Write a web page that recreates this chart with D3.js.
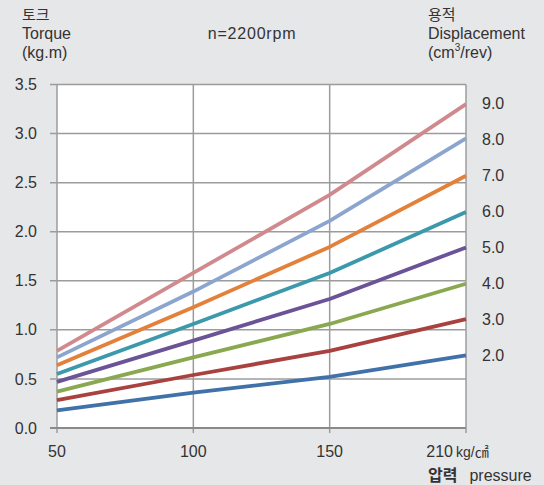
<!DOCTYPE html>
<html><head><meta charset="utf-8">
<script src="https://cdn.jsdelivr.net/npm/d3@7"></script>
<style>
html,body{margin:0;padding:0;background:#e6e7e9;}
svg{display:block;}
text{font-family:"Liberation Sans",Arial,"Noto Sans CJK KR",sans-serif;fill:#333;}
.kr{font-family:"Noto Sans CJK KR","Liberation Sans",sans-serif;}
</style></head>
<body>
<script>
const pressures = [50, 100, 150, 210];
const torqueTicks = [0, 0.5, 1.0, 1.5, 2.0, 2.5, 3.0, 3.5];
const displacementTicks = [2, 3, 4, 5, 6, 7, 8, 9];
const d2 = [0.18, 0.36, 0.52, 0.74];
const d3v = [0.285, 0.54, 0.785, 1.11];
const d4 = [0.37, 0.72, 1.06, 1.47];
const d5 = [0.47, 0.89, 1.315, 1.84];
const d6 = [0.55, 1.06, 1.58, 2.20];
const d7 = [0.64, 1.23, 1.845, 2.57];
const d8 = [0.72, 1.39, 2.11, 2.95];
const d9 = [0.785, 1.58, 2.375, 3.30];
const seriesNames = ["2.0","3.0","4.0","5.0","6.0","7.0","8.0","9.0"];
const seriesValues = [d2, d3v, d4, d5, d6, d7, d8, d9];
const colors = ["#4171a9","#a9413f","#8aa84f","#6a5396","#3b99ab","#e3813b","#8ba5cf","#d0898d"];
const torquePerDisp = 0.3675; // right axis: torque at 210 per cm3/rev

const W = 544, H = 485;
const svg = d3.select("body").append("svg").attr("width", W).attr("height", H);

const x = d3.scalePoint().domain(pressures).range([57, 466]);
const y = d3.scaleLinear().domain([0, 3.5]).range([428, 84.5]);
const yR = d3.scaleLinear().domain([0, 3.5 / torquePerDisp]).range([428, 84.5]);

// plot background
svg.append("rect").attr("x", x(50)).attr("y", y(3.5)).attr("width", x(210) - x(50)).attr("height", y(0) - y(3.5)).attr("fill", "#fff");

// horizontal gridlines
svg.append("g").selectAll("line").data(torqueTicks.filter(d => d > 0)).join("line")
  .attr("x1", x(50) - 7).attr("x2", x(210)).attr("y1", d => y(d)).attr("y2", d => y(d))
  .attr("stroke", "#9c9c9c").attr("stroke-width", 1.5);
// vertical gridlines
svg.append("g").selectAll("line").data(pressures.slice(1)).join("line")
  .attr("x1", d => x(d)).attr("x2", d => x(d)).attr("y1", y(3.5)).attr("y2", y(0) + 5)
  .attr("stroke", "#9c9c9c").attr("stroke-width", 1.5);
// left axis
svg.append("line").attr("x1", x(50)).attr("x2", x(50)).attr("y1", y(3.5)).attr("y2", y(0) + 5)
  .attr("stroke", "#9c9c9c").attr("stroke-width", 1.5);
// bottom axis
svg.append("line").attr("x1", x(50) - 7).attr("x2", x(210)).attr("y1", y(0)).attr("y2", y(0))
  .attr("stroke", "#8a8a8a").attr("stroke-width", 2);

// lines
const line = d3.line().x((d, i) => x(pressures[i])).y(d => y(d));
svg.append("g").selectAll("path").data(seriesValues).join("path")
  .attr("d", line).attr("fill", "none")
  .attr("stroke", (d, i) => colors[i]).attr("stroke-width", 3.8)
  .attr("stroke-linejoin", "round");

// left tick labels
svg.append("g").selectAll("text").data(torqueTicks).join("text")
  .attr("x", 37).attr("y", d => y(d)).attr("dy", "0.35em")
  .attr("text-anchor", "end").attr("font-size", 16)
  .text(d => d.toFixed(1));

// right tick labels
svg.append("g").selectAll("text").data(displacementTicks).join("text")
  .attr("x", 482).attr("y", d => yR(d)).attr("dy", "0.35em")
  .attr("font-size", 16)
  .text(d => d.toFixed(1));

// bottom tick labels
svg.append("g").selectAll("text").data(pressures).join("text")
  .attr("x", d => d === 210 ? x(d) - 13 : x(d)).attr("y", 457)
  .attr("text-anchor", d => d === 210 ? "end" : "middle").attr("font-size", 16)
  .text(d => d);
svg.append("text").attr("x", x(210) - 10).attr("y", 457).attr("font-size", 14)
  .attr("font-family", "'Liberation Sans Narrow','Liberation Sans',sans-serif").text("kg/㎠");

// titles
svg.append("text").attr("class", "kr").attr("x", 22).attr("y", 20).attr("font-size", 15).text("토크");
svg.append("text").attr("x", 22).attr("y", 39).attr("font-size", 16).text("Torque");
svg.append("text").attr("x", 22).attr("y", 58).attr("font-size", 16).text("(kg.m)");

svg.append("text").attr("x", 252).attr("y", 39).attr("font-size", 16).attr("text-anchor", "middle")
  .attr("letter-spacing", 0.8).text("n=2200rpm");

svg.append("text").attr("class", "kr").attr("x", 428).attr("y", 20).attr("font-size", 15).text("용적");
svg.append("text").attr("x", 428).attr("y", 39).attr("font-size", 16).text("Displacement");
const cm = svg.append("text").attr("x", 428).attr("y", 58).attr("font-size", 16);
cm.append("tspan").text("(cm");
cm.append("tspan").attr("font-size", 10).attr("dy", -7).text("3");
cm.append("tspan").attr("dy", 7).text("/rev)");

const pr = svg.append("text").attr("x", 428).attr("y", 481).attr("font-size", 16);
pr.append("tspan").attr("class", "kr").attr("font-weight", "bold").text("압력");
pr.append("tspan").attr("dx", 12).text("pressure");
</script>
</body></html>
